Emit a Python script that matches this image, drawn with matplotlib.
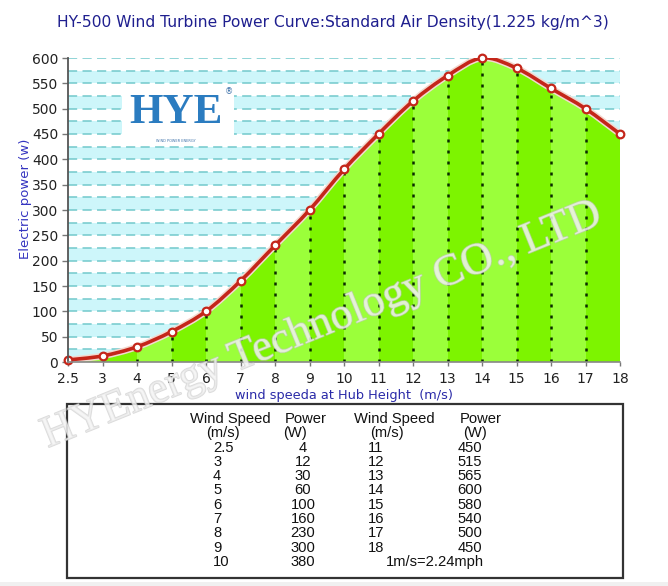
import numpy as np
import matplotlib
matplotlib.use("Agg")
import matplotlib.pyplot as plt
from matplotlib.path import Path
from matplotlib.patches import PathPatch, Rectangle
import matplotlib.patheffects as pe

# data
speeds = [2.5, 3, 4, 5, 6, 7, 8, 9, 10, 11, 12, 13, 14, 15, 16, 17, 18]
power = [4, 12, 30, 60, 100, 160, 230, 300, 380, 450, 515, 565, 600, 580, 540, 500, 450]
speed_labels = ["2.5", "3", "4", "5", "6", "7", "8", "9", "10", "11", "12",
                "13", "14", "15", "16", "17", "18"]
y_ticks = list(range(0, 601, 50))

title = "HY-500 Wind Turbine Power Curve:Standard Air Density(1.225 kg/m^3)"
xlabel = "wind speeda at Hub Height  (m/s)"
ylabel = "Electric power (w)"

# table columns
tbl_left_speed = ["2.5", "3", "4", "5", "6", "7", "8", "9", "10"]
tbl_left_power = ["4", "12", "30", "60", "100", "160", "230", "300", "380"]
tbl_right_speed = ["11", "12", "13", "14", "15", "16", "17", "18"]
tbl_right_power = ["450", "515", "565", "600", "580", "540", "500", "450"]
note = "1m/s=2.24mph"

W, H = 668, 586
fig = plt.figure(figsize=(W / 100, H / 100), dpi=100)
fig.patch.set_facecolor("white")

def fx(px):
    return px / W

def fy(py):
    return 1 - py / H

ax = fig.add_axes([fx(68), fy(362), (620 - 68) / W, (362 - 58) / H])
ax.set_xlim(0, len(speeds) - 1)
ax.set_ylim(0, 600)
ax.set_facecolor("white")

# background bands + dashed grid
for k in range(0, 24):
    if k % 2 == 0:
        ax.axhspan(k * 25, (k + 1) * 25, color="#cdf6fa", lw=0, zorder=0)
for v in range(25, 601, 25):
    ax.axhline(v, color="#72c9cc", lw=1.1, ls=(0, (6, 3.5)), zorder=1)

# smooth curve through the points (catmull-rom as bezier)
xi = np.arange(len(speeds), dtype=float)
pts = np.column_stack([xi, np.array(power, dtype=float)])
ext = np.vstack([pts[0], pts, pts[-1]])
verts = [tuple(pts[0])]
codes = [Path.MOVETO]
for i in range(len(pts) - 1):
    p0, p1, p2, p3 = ext[i], ext[i + 1], ext[i + 2], ext[i + 3]
    c1 = p1 + (p2 - p0) / 6.0
    c2 = p2 - (p3 - p1) / 6.0
    verts += [tuple(c1), tuple(c2), tuple(p2)]
    codes += [Path.CURVE4] * 3
curve = Path(verts, codes)

area_verts = [(xi[0], 0)] + verts + [(xi[-1], 0), (xi[0], 0)]
area_codes = [Path.MOVETO, Path.LINETO] + codes[1:] + [Path.LINETO, Path.CLOSEPOLY]
area = PathPatch(Path(area_verts, area_codes), facecolor="none", edgecolor="none", zorder=2)
ax.add_patch(area)

for i in range(len(speeds) - 1):
    col = "#7df400" if i % 2 == 1 else "#9bff3a"
    span = ax.axvspan(i, i + 1, color=col, lw=0, zorder=2)
    span.set_clip_path(area)

# dotted verticals
ax.vlines(xi[1:-1], 0, power[1:-1], colors="#0a2a00", linestyles=(0, (1.2, 3.2)),
          lw=1.8, zorder=3)

line = PathPatch(curve, facecolor="none", edgecolor="#c4261a", lw=2.6, zorder=4,
                 capstyle="round")
line.set_path_effects([pe.Stroke(linewidth=4.8, foreground="#f3d9d0"), pe.Normal()])
ax.add_patch(line)
ax.plot(xi, power, "o", ms=5.5, mfc="white", mec="#c4261a", mew=1.6, zorder=5,
        clip_on=False)

for s in ["top", "right"]:
    ax.spines[s].set_visible(False)
ax.spines["left"].set_color("#555555")
ax.spines["left"].set_linewidth(1.3)
ax.spines["bottom"].set_color("#888888")
ax.spines["bottom"].set_linewidth(1.2)
ax.spines["left"].set_zorder(6)
ax.spines["bottom"].set_zorder(6)

ax.set_yticks(y_ticks)
ax.set_yticklabels([str(v) for v in y_ticks])
ax.set_xticks(xi)
ax.set_xticklabels(speed_labels)
ax.tick_params(axis="y", length=4, width=1, color="#777777", pad=3,
               labelsize=10, labelcolor="#222222")
ax.tick_params(axis="x", length=3, width=1, color="#777777", pad=4,
               labelsize=10, labelcolor="#222222")

# logo on a white patch
fig.patches.append(Rectangle((fx(122), fy(146)), (234 - 122) / W, (146 - 88) / H,
                             transform=fig.transFigure, facecolor="white",
                             edgecolor="none", zorder=6))
fig.text(fx(176), fy(113), "HYE", ha="center", va="center", fontsize=31,
         family="Liberation Serif", weight="bold", color="#2b7cc0", zorder=7)
fig.text(fx(229), fy(92), "\u00ae", ha="center", va="center", fontsize=6,
         color="#3a6fa8", zorder=8)
fig.text(fx(176), fy(141), "WIND POWER ENERGY", ha="center", va="center",
         fontsize=2.5, color="#3a6fa8", zorder=8)

# titles
fig.text(fx(333), fy(22), title, ha="center", va="center", fontsize=11.2,
         color="#1f1f8f")
fig.text(fx(26), fy(199), ylabel, ha="center", va="center", rotation=90,
         fontsize=9.5, color="#3434c0")
fig.text(fx(344), fy(395), xlabel, ha="center", va="center", fontsize=9.3,
         color="#2a2aa8")

# watermark
fig.text(fx(322), fy(325), "HYEnergy Technology CO., LTD", ha="center", va="center",
         rotation=22, fontsize=32, family="Liberation Serif", color="#f4f4f4",
         alpha=0.6, zorder=9,
         path_effects=[pe.withStroke(linewidth=1.2, foreground="#c4c4c4")])

# table box
fig.patches.append(Rectangle((fx(67), fy(578)), (623 - 67) / W, (578 - 404) / H,
                             transform=fig.transFigure, facecolor="none",
                             edgecolor="#333333", lw=1.6, zorder=3))
fig.patches.append(Rectangle((0, 0), 1, (586 - 582) / H, transform=fig.transFigure,
                             facecolor="#f0f0f0", edgecolor="none", zorder=1))

tfam = "Liberation Sans"
tsize = 10.6
row0, dy = 419, 14.3

def tt(x, row, s, ha="left"):
    fig.text(fx(x), fy(row0 + row * dy), s, ha=ha, va="center", fontsize=tsize,
             family=tfam, color="#111111", zorder=10)

tt(190, 0, "Wind Speed")
tt(285, 0, "Power")
tt(354, 0, "Wind Speed")
tt(460, 0, "Power")
tt(206, 1, "(m/s)")
tt(283, 1, "(W)")
tt(370, 1, "(m/s)")
tt(463, 1, "(W)")
for r, (s, p) in enumerate(zip(tbl_left_speed, tbl_left_power)):
    tt(213, r + 2, s)
    tt(303, r + 2, p, ha="center")
for r, (s, p) in enumerate(zip(tbl_right_speed, tbl_right_power)):
    tt(368, r + 2, s)
    tt(470, r + 2, p, ha="center")
tt(435, 10, note, ha="center")

fig.savefig("out.png", dpi=100, facecolor="white")
